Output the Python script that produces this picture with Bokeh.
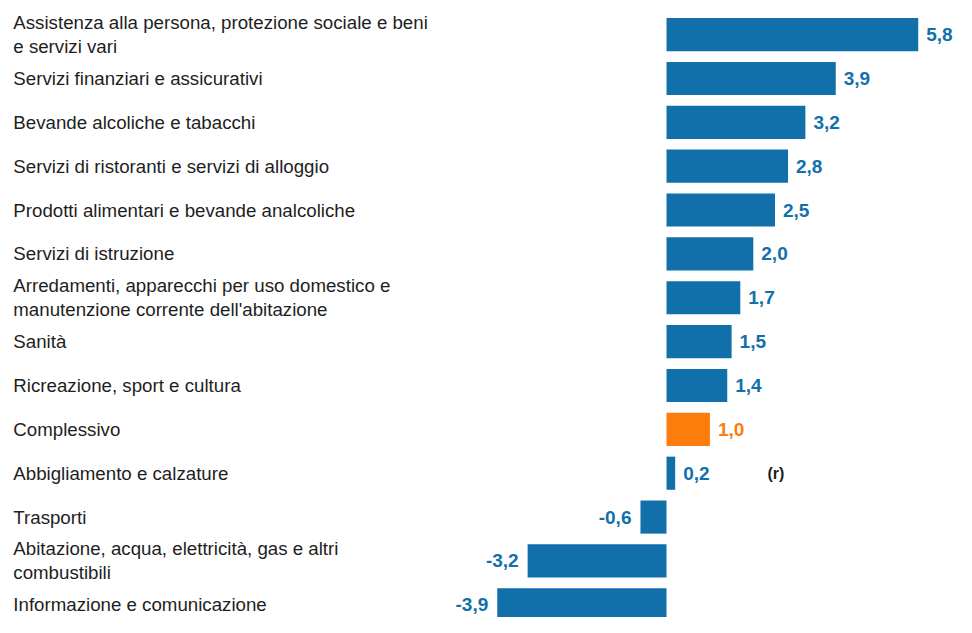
from bokeh.plotting import figure
from bokeh.models import ColumnDataSource, Range1d
from bokeh.core.properties import value
from bokeh.embed import file_html
from bokeh.resources import INLINE

categories = [
    "Assistenza alla persona, protezione sociale e beni\ne servizi vari",
    "Servizi finanziari e assicurativi",
    "Bevande alcoliche e tabacchi",
    "Servizi di ristoranti e servizi di alloggio",
    "Prodotti alimentari e bevande analcoliche",
    "Servizi di istruzione",
    "Arredamenti, apparecchi per uso domestico e\nmanutenzione corrente dell'abitazione",
    "Sanità",
    "Ricreazione, sport e cultura",
    "Complessivo",
    "Abbigliamento e calzature",
    "Trasporti",
    "Abitazione, acqua, elettricità, gas e altri\ncombustibili",
    "Informazione e comunicazione",
]
values = [5.8, 3.9, 3.2, 2.8, 2.5, 2.0, 1.7, 1.5, 1.4, 1.0, 0.2, -0.6, -3.2, -3.9]
notes = ["", "", "", "", "", "", "", "", "", "", "(r)", "", "", ""]
highlight = "Complessivo"

BLUE = "#1170aa"
ORANGE = "#fc7d0b"
TEXT = "#1e1e1e"
FONT = value("Liberation Sans")

W, H = 956, 617
px_per_unit = 43.4
zero_px = 666
xs = -zero_px / px_per_unit
xe = (W - zero_px) / px_per_unit
row_px = 43.86
first_px = 34.1
ys = -first_px / row_px
ye = (H - first_px) / row_px

idx = list(range(len(categories)))
colors = [ORANGE if c == highlight else BLUE for c in categories]
labels = [f"{v:.1f}".replace(".", ",") for v in values]

src = ColumnDataSource(dict(
    y=idx, v=values, cat=categories, color=colors, lab=labels,
    left=[min(0, v) for v in values], right=[max(0, v) for v in values],
    align=["left" if v >= 0 else "right" for v in values],
    xoff=[8 if v >= 0 else -9 for v in values],
    catx=[xs + 12.8 / px_per_unit] * len(values),
    note=notes,
    notex=[(767 - zero_px) / px_per_unit] * len(values),
))

p = figure(width=W, height=H, output_backend="svg", toolbar_location=None,
           x_range=Range1d(xs, xe), y_range=Range1d(ye, ys),
           min_border=0, outline_line_color=None)
p.axis.visible = False
p.grid.visible = False

p.hbar(y="y", left="left", right="right", height=0.755, fill_color="color",
       line_color=None, source=src)

p.text(x="catx", y="y", text="cat", source=src, text_align="left",
       text_baseline="middle", text_font=FONT,
       text_font_size="18.7px", text_color=TEXT, text_line_height=1.15)

p.text(x="v", y="y", text="lab", source=src, text_align="align",
       x_offset="xoff", text_baseline="middle", text_font=FONT,
       text_font_size="19px", text_font_style="bold", text_color="color")

p.text(x="notex", y="y", text="note", source=src, text_align="left",
       text_baseline="middle", text_font=FONT,
       text_font_size="16px", text_font_style="bold", text_color=TEXT)

open("out.html", "w").write(file_html(p, INLINE))
